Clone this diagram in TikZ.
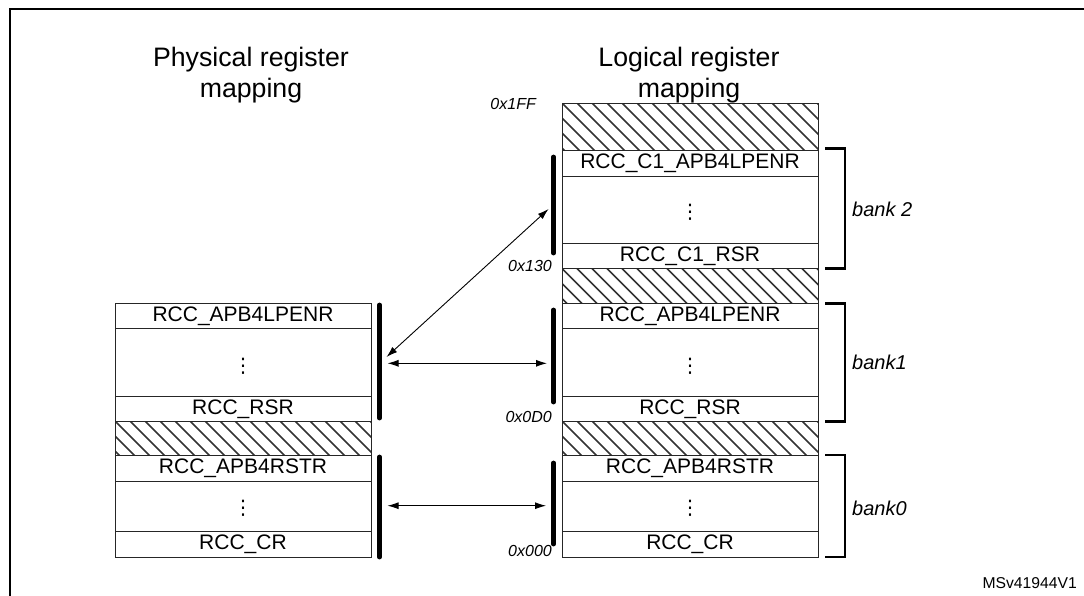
\documentclass[tikz,border=0pt]{standalone}
\usepackage{fontspec}
\setmainfont{Liberation Sans}
\newfontfamily\dotsfont{DejaVu Sans}
\usetikzlibrary{arrows.meta}
\begin{document}
\begin{tikzpicture}[x=1pt,y=-1pt,
  box/.style={draw=black!85, line width=0.8pt, minimum width=256pt, inner sep=0pt},
  reg/.style={box, font=\fontsize{21}{21}\selectfont, text height=15pt, text depth=3.7pt},
  gap/.style={box},
  vdot/.style={font=\dotsfont\fontsize{20}{20}\selectfont, inner sep=0pt},
  hatchline/.style={line width=1.5pt, black!80},
  hatch/.style={box, path picture={
      \foreach \k in {-60,-45,...,270}
        \draw[hatchline] ([xshift=\k pt]path picture bounding box.north west) -- ++(60,60);}},
  bar/.style={line width=4.8pt, line cap=round},
  conn/.style={line width=0.9pt, {Latex[length=11pt,width=7pt]}-{Latex[length=11pt,width=7pt]}},
  brace/.style={line width=2.6pt},
  addr/.style={font=\fontsize{16}{16}\selectfont\itshape, anchor=east, inner sep=0pt},
  banklbl/.style={font=\fontsize{20}{20}\selectfont\itshape, anchor=west, inner sep=0pt},
  heading/.style={font=\fontsize{26.7}{31}\selectfont, align=center, inner sep=0pt}
]
\clip (0,0) rectangle (1084,595);
% frame
\draw[line width=2pt] (10,600) -- (10,9) -- (1090,9);

% headings
\node[heading] (hphys) at (251,75) {Physical register\\mapping};
\node[heading] (hlog) at (689,75) {Logical register\\mapping};

% logical register map
\node[hatch, minimum height=47pt]   (lh2) at (690,126.5) {};
\node[reg,   minimum height=26pt]   (l2a) at (690,163) {RCC\_C1\_APB4LPENR};
\node[gap,   minimum height=67.5pt] (l2m) at (690,209.75) {};
\node[reg,   minimum height=25pt]   (l2b) at (690,256) {RCC\_C1\_RSR};
\node[hatch, minimum height=34.5pt] (lh1) at (690,285.75) {};
\node[reg,   minimum height=25.5pt] (l1a) at (690,315.75) {RCC\_APB4LPENR};
\node[gap,   minimum height=68pt]   (l1m) at (690,362.5) {};
\node[reg,   minimum height=24.5pt] (l1b) at (690,408.75) {RCC\_RSR};
\node[hatch, minimum height=34.5pt] (lh0) at (690,438.25) {};
\node[reg,   minimum height=25.5pt] (l0a) at (690,468.25) {RCC\_APB4RSTR};
\node[gap,   minimum height=50.5pt] (l0m) at (690,506.25) {};
\node[reg,   minimum height=25.5pt] (l0b) at (690,544.25) {RCC\_CR};

% physical register map
\node[reg,   minimum height=25.5pt] (p1a) at (243,315.75) {RCC\_APB4LPENR};
\node[gap,   minimum height=68pt]   (p1m) at (243,362.5) {};
\node[reg,   minimum height=24.5pt] (p1b) at (243,408.75) {RCC\_RSR};
\node[hatch, minimum height=34.5pt] (ph0) at (243,438.25) {};
\node[reg,   minimum height=25.5pt] (p0a) at (243,468.25) {RCC\_APB4RSTR};
\node[gap,   minimum height=50.5pt] (p0m) at (243,506.25) {};
\node[reg,   minimum height=25.5pt] (p0b) at (243,544.25) {RCC\_CR};

% vertical ellipses
\node[vdot] (d2)  at (690,212.7) {⋮};
\node[vdot] (d1)  at (690,366) {⋮};
\node[vdot] (d0)  at (690,508.5) {⋮};
\node[vdot] (dp1) at (243,366) {⋮};
\node[vdot] (dp0) at (243,508.5) {⋮};

% address labels
\node[addr] (a1ff) at (536,104) {0x1FF};
\node[addr] (a130) at (552,266) {0x130};
\node[addr] (a0d0) at (552,417) {0x0D0};
\node[addr] (a000) at (552,551) {0x000};

% thick bars
\coordinate (pb1t) at (379.5,305); \coordinate (pb1b) at (379.5,418);
\coordinate (pb0t) at (379.5,457); \coordinate (pb0b) at (379.5,557);
\coordinate (lb2t) at (553.5,157); \coordinate (lb2b) at (553.5,253);
\coordinate (lb1t) at (553.5,310); \coordinate (lb1b) at (553.5,402);
\coordinate (lb0t) at (553.5,463); \coordinate (lb0b) at (553.5,544);
\draw[bar] (pb1t) -- (pb1b);
\draw[bar] (pb0t) -- (pb0b);
\draw[bar] (lb2t) -- (lb2b);
\draw[bar] (lb1t) -- (lb1b);
\draw[bar] (lb0t) -- (lb0b);

% connectors
\coordinate (c1s) at (386.5,357); \coordinate (c1e) at (548.5,209);
\coordinate (c2s) at (387.5,363.3); \coordinate (c2e) at (547,363.3);
\coordinate (c3s) at (387.5,505.7); \coordinate (c3e) at (546,505.7);
\draw[conn] (c1s) -- (c1e);
\draw[conn] (c2s) -- (c2e);
\draw[conn] (c3s) -- (c3e);

% bank brackets
\draw[brace] (825,148.5) -- (845,148.5) -- (845,268.5) -- (825,268.5);
\draw[brace] (825,303.5) -- (845,303.5) -- (845,421.5) -- (825,421.5);
\draw[brace] (825,455) -- (845,455) -- (845,557) -- (825,557);
\node[banklbl] (bk2) at (852,209) {bank 2};
\node[banklbl] (bk1) at (852,362) {bank1};
\node[banklbl] (bk0) at (852,508) {bank0};

% figure id
\node[font=\fontsize{15.7}{16}\selectfont, anchor=east, inner sep=0pt] (fid) at (1077,583) {MSv41944V1};
\end{tikzpicture}
\end{document}
